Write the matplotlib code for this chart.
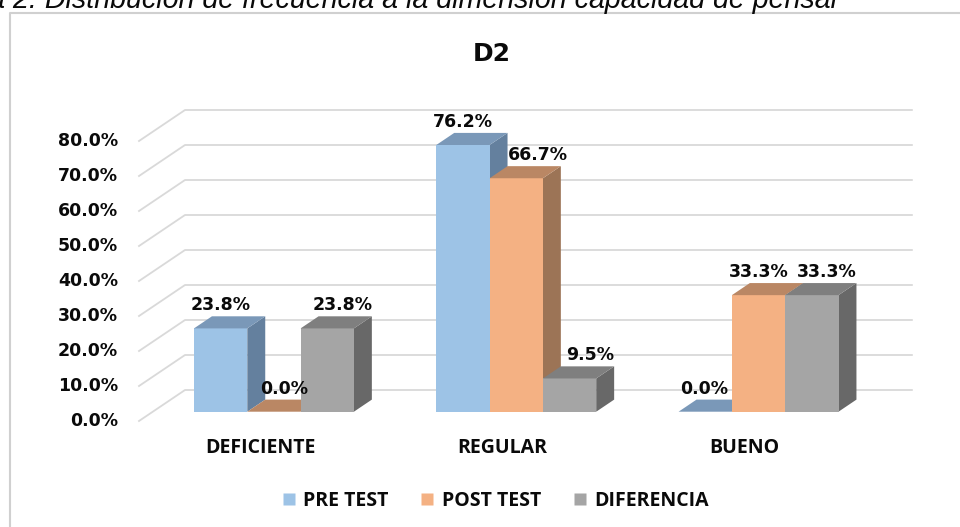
import numpy as np
import matplotlib
matplotlib.use("Agg")
import matplotlib.pyplot as plt
from matplotlib.patches import Polygon
from matplotlib.lines import Line2D

# data
CATEGORIES = ['DEFICIENTE', 'REGULAR', 'BUENO']
SERIES = ['PRE TEST', 'POST TEST', 'DIFERENCIA']
PRE_TEST = [23.8, 76.2, 0.0]
POST_TEST = [0.0, 66.7, 33.3]
DIFERENCIA = [23.8, 9.5, 33.3]
Y_TICKS = [0, 10, 20, 30, 40, 50, 60, 70, 80]
TITLE = 'D2'
CAPTION = 'Figura 2. Distribución de frecuencia a la dimensión capacidad de pensar'

# styling
FRONT = ['#9DC3E6', '#F4B183', '#A5A5A5']
TOP = ['#7A98B8', '#BA8764', '#7F7F7F']
SIDE = ['#64809E', '#9C7456', '#686868']
GRID = '#D9D9D9'
INK = '#0A0A0A'
LABEL_DX_PX = [[0, 0, -1], [10, 22, 0], [15, 21, 15]]  # per series, per category

W, H, DPI = 960, 527, 100
PT = 72 / DPI  # points per pixel

# front plane calibration (pixels)
X0_PX, CAT_PX = 139, 242.3
Y0_PX, PCT_PX = 421, 3.5
DX = 46 / CAT_PX   # full depth shift in x units
DY = 31 / PCT_PX   # full depth shift in y units
BAR_W = 0.22
Z0, Z1 = 0.3, 0.69

fig = plt.figure(figsize=(W / DPI, H / DPI), dpi=DPI)
ax = fig.add_axes([0, 0, 1, 1])
ax.set_xlim(-X0_PX / CAT_PX, (W - X0_PX) / CAT_PX)
ax.set_ylim((Y0_PX - H) / PCT_PX, Y0_PX / PCT_PX)
ax.axis('off')

# chart border (right and bottom fall outside the picture)
fig.add_artist(Line2D([10 / W, 10 / W, 1], [0, 1 - 13 / H, 1 - 13 / H],
                      transform=fig.transFigure, color='#D0D0D0', lw=1.5))

fig.text(840 / W, 1 - 8 / H, CAPTION, ha='right', va='baseline',
         fontsize=20.6, style='italic', family='Liberation Sans', color=INK)

# gridlines: floor diagonal + back wall
n = len(CATEGORIES)
for v in Y_TICKS:
    ax.plot([0, DX, n + DX], [v, v + DY, v + DY], color=GRID, lw=1.3, zorder=1)
    ax.annotate(f'{v:.1f}%', (0, v), xytext=(-21 * PT, 0), textcoords='offset points',
                ha='right', va='center', fontsize=12.5, fontweight='bold',
                family='DejaVu Sans', color=INK)

values = [PRE_TEST, POST_TEST, DIFERENCIA]
for i, cat in enumerate(CATEGORIES):
    c = i + 0.5
    for j, vals in enumerate(values):
        v = vals[i]
        x0 = c - 1.5 * BAR_W + j * BAR_W
        x1 = x0 + BAR_W
        fx0, fx1 = x0 + Z0 * DX, x1 + Z0 * DX
        bx0, bx1 = x0 + Z1 * DX, x1 + Z1 * DX
        fy0, by0 = Z0 * DY, Z1 * DY
        if v > 0:
            side = [(fx1, fy0), (fx1, v + fy0), (bx1, v + by0), (bx1, by0)]
            ax.add_patch(Polygon(side, closed=True, fc=SIDE[j], ec='none', zorder=2))
            front = [(fx0, fy0), (fx1, fy0), (fx1, v + fy0), (fx0, v + fy0)]
            ax.add_patch(Polygon(front, closed=True, fc=FRONT[j], ec='none', zorder=2))
        top = [(fx0, v + fy0), (fx1, v + fy0), (bx1, v + by0), (bx0, v + by0)]
        ax.add_patch(Polygon(top, closed=True, fc=TOP[j], ec='none', zorder=2))

        ax.annotate(f'{v:.1f}%', ((fx0 + fx1) / 2, v + fy0),
                    xytext=(LABEL_DX_PX[j][i] * PT, 23 * PT), textcoords='offset points',
                    ha='center', va='center', fontsize=12.5, fontweight='bold',
                    family='DejaVu Sans', color=INK, zorder=5)

    ax.annotate(cat, (c, 0), xytext=(0, -27 * PT), textcoords='offset points',
                ha='center', va='center', fontsize=14, fontweight='bold',
                family='Open Sans', color=INK)

ax.annotate(TITLE, (492 / W, 1 - 54 / H), xycoords='figure fraction',
            ha='center', va='center', fontsize=18, fontweight='bold',
            family='DejaVu Sans', color=INK)

handles = [Line2D([], [], marker='s', linestyle='none', markersize=9,
                  markerfacecolor=FRONT[j], markeredgecolor='none') for j in range(3)]
leg = fig.legend(handles, SERIES, loc='center', bbox_to_anchor=(496 / W, 1 - 501 / H),
                 ncol=3, frameon=False, handlelength=0.6, handletextpad=0.45,
                 columnspacing=1.7, prop={'family': 'Open Sans', 'weight': 'bold', 'size': 14})
for t in leg.get_texts():
    t.set_color(INK)

fig.savefig('out.png', dpi=DPI)
